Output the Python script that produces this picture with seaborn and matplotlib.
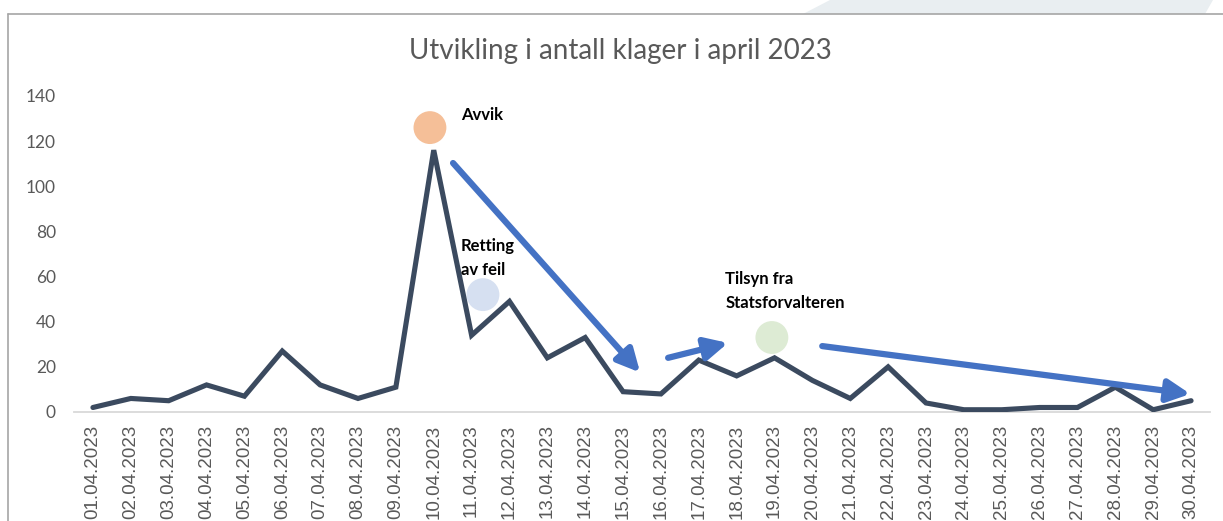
import matplotlib
matplotlib.use("Agg")
import matplotlib.pyplot as plt
import matplotlib.patches as mpatches
from matplotlib.lines import Line2D
import seaborn as sns
import numpy as np
import pandas as pd

# ---- data ----
dates = [f"{d:02d}.04.2023" for d in range(1, 31)]
klager = [2, 6, 5, 12, 7, 27, 12, 6, 11, 116, 34, 49, 24, 33, 9,
          8, 23, 16, 24, 14, 6, 20, 4, 1, 1, 2, 2, 11, 1, 5]

# event markers (x as day index 0-based, y value)
marker_x = [8.9, 10.3, 17.93]
marker_y = [126, 52, 33]
marker_colors = ["#f5bf98", "#d6e0f1", "#ddebd4"]

label_texts = ["Avvik", "Retting\nav feil", "Tilsyn fra\nStatsforvalteren"]
label_x = [9.72, 9.72, 16.7]
label_y = [135, 77, 62.5]

# arrows: start (x,y) -> end (x,y)
arrow_x0 = [9.51, 15.19, 19.26]
arrow_y0 = [110.3, 24.0, 29.2]
arrow_x1 = [14.45, 16.77, 28.98]
arrow_y1 = [17.5, 30.6, 8.0]

yticks = [0, 20, 40, 60, 80, 100, 120, 140]

sns.set_style("white")
plt.rcParams['font.family'] = ['Lato', 'DejaVu Sans']

fig = plt.figure(figsize=(12.23, 5.21), dpi=100)
ax = fig.add_axes([74/1223, 1-412/521, (1210-74)/1223, (412-96)/521])

df = pd.DataFrame({"i": np.arange(len(dates)), "klager": klager})
sns.lineplot(data=df, x="i", y="klager", ax=ax, color="#3b4a5f", lw=3.7,
             solid_joinstyle="miter", zorder=3)

ax.scatter(marker_x, marker_y, s=560, c=marker_colors, edgecolors="none", zorder=2)

for t, x, y in zip(label_texts, label_x, label_y):
    ax.text(x, y, t, fontsize=12, fontweight="bold", color="black",
            ha="left", va="top", linespacing=1.6, zorder=5)

for x0, y0, x1, y1 in zip(arrow_x0, arrow_y0, arrow_x1, arrow_y1):
    ax.annotate("", xy=(x1, y1), xytext=(x0, y0),
                arrowprops=dict(arrowstyle="-|>,head_length=0.9,head_width=0.45",
                                color="#4472c4", lw=4.5, mutation_scale=15,
                                shrinkA=0, shrinkB=0),
                zorder=4)

ax.set_xlim(-0.5, len(dates) - 0.5)
ax.set_ylim(0, 140)
ax.set_xticks(np.arange(len(dates)))
ax.set_xticklabels(dates, rotation=90, fontsize=13.5, color="#595959",
                   family=["Liberation Sans", "DejaVu Sans"])
ax.set_xticks(np.arange(-0.5, len(dates)), minor=True)
ax.tick_params(axis="x", which="major", length=0, pad=9)
ax.tick_params(axis="x", which="minor", length=6, color="#d9d9d9", width=1.2)
ax.set_yticks(yticks)
ax.set_yticklabels([str(v) for v in yticks], fontsize=12.5, color="#595959")
ax.tick_params(axis="y", length=0, pad=13)
ax.set_xlabel("")
ax.set_ylabel("")
for s in ["top", "right", "left"]:
    ax.spines[s].set_visible(False)
ax.spines["bottom"].set_color("#d9d9d9")
ax.spines["bottom"].set_linewidth(1.3)
ax.grid(False)

fig.text(620/1223, 1-51/521, "Utvikling i antall klager i april 2023",
         ha="center", va="center", fontsize=20, color="#595959")

# frame decoration
fig.patches.append(mpatches.Polygon([[803/1223, 1-14/521], [830/1223, 1.0], [1213/1223, 1.0],
                                     [1205/1223, 1-14/521]], closed=True,
                                    transform=fig.transFigure, facecolor="#e9eef1",
                                    edgecolor="none", zorder=0))
fig.lines.append(Line2D([8/1223, 8/1223], [0, 1-14/521], transform=fig.transFigure,
                        color="#a6a6a6", lw=1.2))
fig.lines.append(Line2D([8/1223, 1.0], [1-14/521, 1-14/521], transform=fig.transFigure,
                        color="#a6a6a6", lw=1.2))

fig.savefig("out.png", dpi=100)
